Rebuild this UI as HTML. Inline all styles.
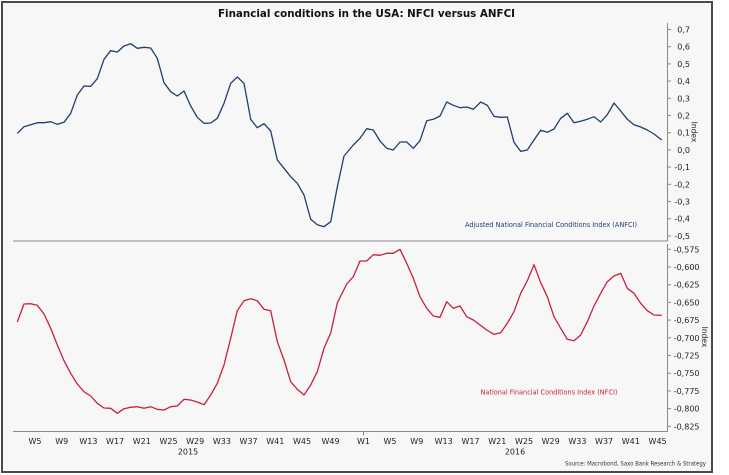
<!DOCTYPE html>
<html><head><meta charset="utf-8"><style>
html,body{margin:0;padding:0;background:#fff;}
svg{display:block;}
text{font-family:"DejaVu Sans","Liberation Sans",sans-serif;}
</style></head><body>
<svg width="729" height="475" viewBox="0 0 729 475" xmlns="http://www.w3.org/2000/svg">
<rect x="0" y="0" width="729" height="475" fill="#ffffff"/>
<rect x="2" y="2" width="710" height="470" fill="#f7f7f7" stroke="#4a4a4a" stroke-width="2"/>
<text x="366.5" y="17" text-anchor="middle" font-size="10.5" font-weight="bold" fill="#111" textLength="297" lengthAdjust="spacingAndGlyphs">Financial conditions in the USA: NFCI versus ANFCI</text>

<!-- axes -->
<line x1="13" y1="241" x2="667.5" y2="241" stroke="#888" stroke-width="1"/>
<line x1="667.5" y1="23" x2="667.5" y2="241" stroke="#888" stroke-width="1"/>
<line x1="667.5" y1="244" x2="667.5" y2="431.5" stroke="#888" stroke-width="1"/>
<line x1="13" y1="431.5" x2="667.5" y2="431.5" stroke="#888" stroke-width="1"/>
<line x1="363.5" y1="431.5" x2="363.5" y2="435.5" stroke="#888" stroke-width="1"/>

<!-- ticks -->
<g stroke="#888" stroke-width="1">
<line x1="667" y1="29.5" x2="671" y2="29.5"/><line x1="667" y1="46.7" x2="671" y2="46.7"/>
<line x1="667" y1="63.9" x2="671" y2="63.9"/><line x1="667" y1="81.1" x2="671" y2="81.1"/>
<line x1="667" y1="98.3" x2="671" y2="98.3"/><line x1="667" y1="115.5" x2="671" y2="115.5"/>
<line x1="667" y1="132.7" x2="671" y2="132.7"/><line x1="667" y1="149.9" x2="671" y2="149.9"/>
<line x1="667" y1="167.1" x2="671" y2="167.1"/><line x1="667" y1="184.3" x2="671" y2="184.3"/>
<line x1="667" y1="201.5" x2="671" y2="201.5"/><line x1="667" y1="218.7" x2="671" y2="218.7"/>
<line x1="667" y1="235.9" x2="671" y2="235.9"/>
<line x1="667" y1="249.3" x2="671" y2="249.3"/><line x1="667" y1="267" x2="671" y2="267"/>
<line x1="667" y1="284.7" x2="671" y2="284.7"/><line x1="667" y1="302.4" x2="671" y2="302.4"/>
<line x1="667" y1="320.1" x2="671" y2="320.1"/><line x1="667" y1="337.8" x2="671" y2="337.8"/>
<line x1="667" y1="355.5" x2="671" y2="355.5"/><line x1="667" y1="373.2" x2="671" y2="373.2"/>
<line x1="667" y1="390.9" x2="671" y2="390.9"/><line x1="667" y1="408.6" x2="671" y2="408.6"/>
<line x1="667" y1="426.3" x2="671" y2="426.3"/>
</g>
<g font-size="8" fill="#222" text-anchor="end">
<text x="690" y="32.5">0,7</text><text x="690" y="49.7">0,6</text><text x="690" y="66.9">0,5</text>
<text x="690" y="84.1">0,4</text><text x="690" y="101.3">0,3</text><text x="690" y="118.5">0,2</text>
<text x="690" y="135.7">0,1</text><text x="690" y="152.9">0,0</text><text x="690" y="170.1">-0,1</text>
<text x="690" y="187.3">-0,2</text><text x="690" y="204.5">-0,3</text><text x="690" y="221.7">-0,4</text>
<text x="690" y="238.9">-0,5</text>
<text x="699.5" y="252.3">-0,575</text><text x="699.5" y="270">-0,600</text><text x="699.5" y="287.7">-0,625</text>
<text x="699.5" y="305.4">-0,650</text><text x="699.5" y="323.1">-0,675</text><text x="699.5" y="340.8">-0,700</text>
<text x="699.5" y="358.5">-0,725</text><text x="699.5" y="376.2">-0,750</text><text x="699.5" y="393.9">-0,775</text>
<text x="699.5" y="411.6">-0,800</text><text x="699.5" y="429.3">-0,825</text>
</g>
<text transform="translate(691.5,132) rotate(90)" font-size="7.5" fill="#222" text-anchor="middle">Index</text>
<text transform="translate(702,337) rotate(90)" font-size="7.5" fill="#222" text-anchor="middle">Index</text>

<!-- x labels -->
<g font-size="8" fill="#222" text-anchor="middle">
<text x="35" y="444">W5</text><text x="61.7" y="444">W9</text><text x="88.4" y="444">W13</text>
<text x="115.1" y="444">W17</text><text x="141.8" y="444">W21</text><text x="168.5" y="444">W25</text>
<text x="195.2" y="444">W29</text><text x="221.9" y="444">W33</text><text x="248.6" y="444">W37</text>
<text x="275.3" y="444">W41</text><text x="302" y="444">W45</text><text x="330.5" y="444">W49</text>
<text x="363.5" y="444">W1</text><text x="390" y="444">W5</text><text x="416.8" y="444">W9</text>
<text x="443.7" y="444">W13</text><text x="470.5" y="444">W17</text><text x="497.3" y="444">W21</text>
<text x="524" y="444">W25</text><text x="550.7" y="444">W29</text><text x="577.4" y="444">W33</text>
<text x="604.1" y="444">W37</text><text x="630.8" y="444">W41</text><text x="657.6" y="444">W45</text>
<text x="188" y="454.5">2015</text><text x="515" y="454.5">2016</text>
</g>
<text x="706" y="465.5" font-size="6.5" fill="#333" text-anchor="end" textLength="141" lengthAdjust="spacingAndGlyphs">Source: Macrobond, Saxo Bank Research &amp; Strategy</text>

<!-- legends -->
<text x="465" y="227" font-size="7" fill="#1f3f6e" textLength="172" lengthAdjust="spacingAndGlyphs">Adjusted National Financial Conditions Index (ANFCI)</text>
<text x="480.5" y="394.5" font-size="7" fill="#c8203c" textLength="137" lengthAdjust="spacingAndGlyphs">National Financial Conditions Index (NFCI)</text>

<!-- ANFCI -->
<polyline fill="none" stroke="#1f3f6e" stroke-width="1.3" stroke-linejoin="round" points="
17.3,133.3 24,126.7 30.7,124.7 37.3,122.7 44,122.7 50.7,121.7 57.3,124.3 64,122.3 70.7,113.3 77.3,95 84,86 90.7,86.3 97.3,78.7 104,59.3 110.7,50.7 117.3,52 124,46 130.7,43.7 137.3,48.3 144,47.3 150.7,48 157.3,58.3 164,82.7 170.7,91.7 177.3,96 184,91 190.7,106 197.3,117.3 204,123.3 210.7,123 217.3,118.3 224,103.3 230.7,83.3 237.3,77 244,83.3 250.7,119.3 257.3,127.7 264,123.7 270.7,131 277.3,160 284,168.3 290.7,176.7 297.3,183.3 304,195 310.7,219.3 317.3,224.7 324,226.7 330.7,221.7 337.3,187 344,156 353.3,145 360,138.3 366.7,128.7 373.3,130 380,141 386.7,148.3 393.3,150 400,142 406.7,142 413.3,148.3 420,140.7 426.7,120.7 433.3,119.3 440,116 446.7,102 453.3,105.3 460,107.7 466.7,107 473.3,109.3 480.7,102 487.3,105.3 494,116.3 500.7,117.3 507.3,117 514,142.3 520.7,151.3 527.3,150 534,140 540.7,130.3 547.3,132.3 554,129 560.7,118.3 567.3,113.3 574,122.7 580.7,121.3 587.3,119.3 594,116.7 600.7,122 607.3,114.7 614,103 620.7,111 627.3,119.3 634,124.7 640.7,127 647.3,130 654,134 661.7,140"/>

<!-- NFCI -->
<polyline fill="none" stroke="#c8203c" stroke-width="1.3" stroke-linejoin="round" points="
17.3,322 24,304 30.7,303.7 37.3,305.3 44,314 50.7,328.3 57.3,345 64,360.7 70.7,373.3 77.3,384 84,391.7 90.7,396 97.3,403.3 104,408 110.7,408.3 117.3,413.3 124,408.7 130.7,407.3 137.3,406.7 144,408.3 150.7,406.7 157.3,409.3 164,410 170.7,406.7 177.3,406 184,399.3 190.7,400 197.3,402 204,404.7 210.7,395 217.3,383.3 224,365 230.7,338.3 237.3,310.7 244,300.7 250.7,298.7 257.3,300.7 264,309.3 270.7,310.7 277.3,341.7 284,360 290.7,381.7 297.3,389.3 304,395 310.7,385 317.3,371.7 324,348.3 330.7,333 337.3,303 346.7,284 353.3,276.7 360,261 366.7,261 373.3,254.7 380,255.3 386.7,253.3 393.3,253.3 400,249.3 406.7,263.3 413.3,278.3 420,296.7 426.7,308.3 433.3,316 440,317.3 446.7,301.7 453.3,308.3 460,306 466.7,316.7 473.3,320 480,325 486.7,330 494,334.3 500.7,332.7 507.3,323.3 514,311.7 520.7,293.3 527.3,280.7 534,264.7 540.7,282.7 547.3,296.7 554,316.7 560.7,328.3 567.3,339.3 574,340.7 580.7,335 587.3,321.7 594,306 600.7,293.3 607.3,281.7 614,276 620.7,273.3 627.3,288.3 634,293.3 640.7,303.3 647.3,310.7 654,315 661.7,315.3"/>
</svg>
</body></html>
